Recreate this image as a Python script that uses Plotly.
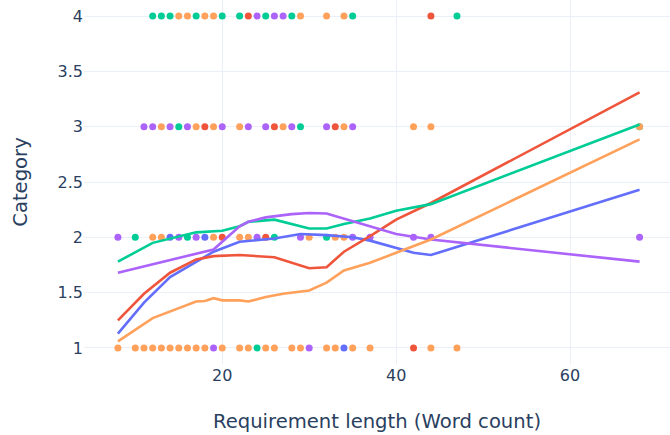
import plotly.graph_objects as go

# Requirement word counts per category, grouped by series colour
blue_x = [14, 18, 34]
blue_y = [2, 2, 1]

red_x = [23, 44, 18, 26, 33, 20, 25, 42]
red_y = [4, 4, 3, 3, 3, 2, 2, 1]

green_x = [12, 13, 14, 17, 20, 22, 25, 28, 35, 47, 15, 29, 68, 10, 16, 26, 32, 24]
green_y = [4, 4, 4, 4, 4, 4, 4, 4, 4, 4, 3, 3, 3, 2, 2, 2, 2, 1]

purple_x = [24, 26, 27,
            11, 12, 14, 16, 20, 23, 25, 28, 32, 35,
            8, 15, 17, 24, 29, 35, 37, 42, 44, 68,
            19, 30]
purple_y = [4, 4, 4,
            3, 3, 3, 3, 3, 3, 3, 3, 3, 3,
            2, 2, 2, 2, 2, 2, 2, 2, 2, 2,
            1, 1]

orange_x = [15, 16, 18, 19, 29, 32, 34,
            13, 17, 19, 22, 27, 34, 42, 44, 68,
            12, 13, 19, 22, 23, 30, 33, 34,
            8, 10, 11, 12, 13, 14, 15, 16, 17, 18, 20, 22, 23, 25, 26, 28, 29,
            32, 33, 35, 37, 44, 47]
orange_y = [4] * 7 + [3] * 9 + [2] * 8 + [1] * 23

# Smoothed (lowess) trend per series
blue_tx = [8, 11, 14, 17, 19, 22, 26, 29, 32, 35, 37, 42, 44, 68]
blue_ty = [1.13, 1.41, 1.64, 1.78, 1.87, 1.96, 1.99, 2.03, 2.02, 2.00, 1.97, 1.86, 1.84, 2.43]

red_tx = [8, 11, 14, 17, 19, 22, 26, 30, 32, 34, 37, 40, 44, 68]
red_ty = [1.25, 1.49, 1.68, 1.80, 1.83, 1.84, 1.82, 1.72, 1.73, 1.87, 2.01, 2.16, 2.31, 3.31]

green_tx = [8, 12, 17, 20, 22, 23, 26, 27, 30, 32, 34, 37, 40, 44, 68]
green_ty = [1.78, 1.95, 2.045, 2.06, 2.10, 2.14, 2.16, 2.14, 2.08, 2.08, 2.12, 2.17, 2.24, 2.30, 3.02]

purple_tx = [8, 14, 19, 21, 22, 23, 25, 28, 30, 32, 34, 37, 40, 44, 68]
purple_ty = [1.68, 1.795, 1.89, 2.03, 2.10, 2.14, 2.18, 2.21, 2.22, 2.215, 2.17, 2.10, 2.03, 1.98, 1.78]

orange_tx = [8, 12, 17, 18, 19, 20, 22, 23, 25, 27, 30, 32, 34, 37, 40, 44, 68]
orange_ty = [1.06, 1.27, 1.42, 1.425, 1.45, 1.43, 1.43, 1.42, 1.46, 1.49, 1.52, 1.59, 1.70, 1.77, 1.86, 1.98, 2.885]

series = [
    ("#636efa", blue_x, blue_y, blue_tx, blue_ty),
    ("#EF553B", red_x, red_y, red_tx, red_ty),
    ("#00cc96", green_x, green_y, green_tx, green_ty),
    ("#ab63fa", purple_x, purple_y, purple_tx, purple_ty),
    ("#FFA15A", orange_x, orange_y, orange_tx, orange_ty),
]

fig = go.Figure()
for color, xs, ys, _, _ in series:
    fig.add_trace(go.Scatter(x=xs, y=ys, mode="markers",
                             marker=dict(color=color, size=7), showlegend=False))
for color, _, _, tx, ty in series:
    fig.add_trace(go.Scatter(x=tx, y=ty, mode="lines",
                             line=dict(color=color, width=2.6), showlegend=False))

fig.update_layout(
    template="plotly_white",
    width=670, height=435,
    margin=dict(l=84, r=0, t=0, b=71),
    font=dict(family="DejaVu Sans", size=16, color="#2a3f5f"),
    xaxis=dict(title=dict(text="Requirement length (Word count)", font=dict(size=19.6),
                          standoff=30),
               range=[4.1, 71.5], tickvals=[20, 40, 60], showline=False, zeroline=False),
    yaxis=dict(title=dict(text="Category", font=dict(size=19.6), standoff=24),
               range=[0.855, 4.145], tickvals=[1, 1.5, 2, 2.5, 3, 3.5, 4],
               ticktext=["1", "1.5", "2", "2.5", "3", "3.5", "4"],
               showline=False, zeroline=False),
)

fig.write_html("out.html")
